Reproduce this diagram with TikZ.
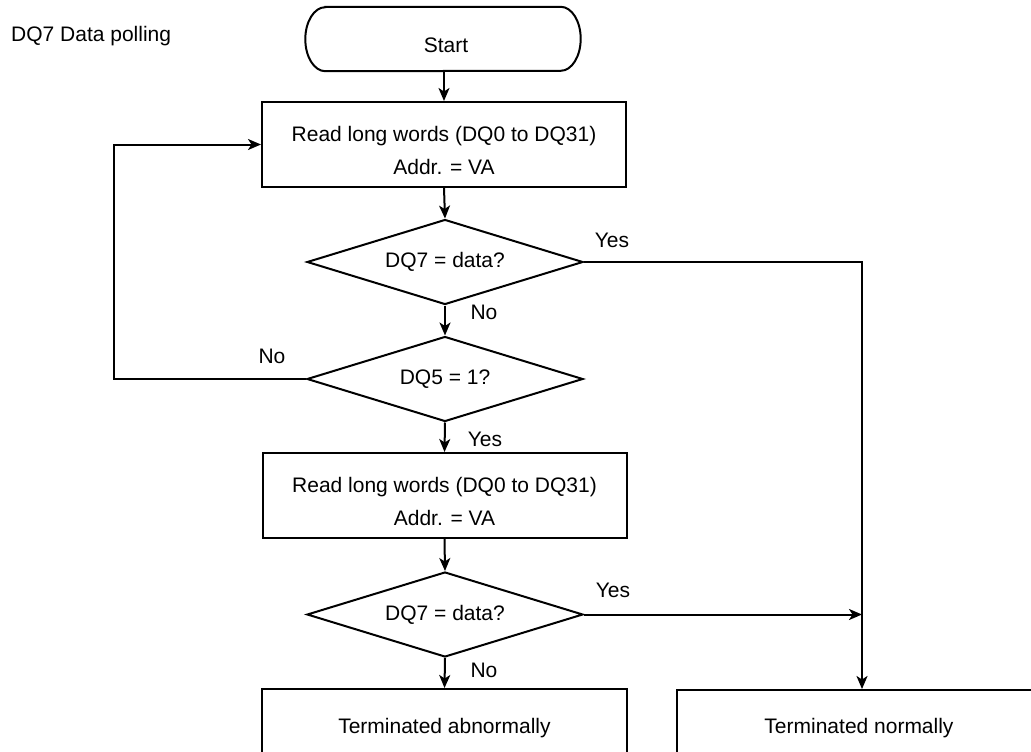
\documentclass[tikz,border=0pt]{standalone}
\usepackage{fontspec}
\setmainfont{Liberation Sans}
\usetikzlibrary{shapes.geometric,arrows.meta}
\begin{document}
\begin{tikzpicture}[x=1pt,y=-1pt,
  every node/.style={font=\fontsize{21}{33}\selectfont},
  arr/.style={line width=2pt,-{Stealth[length=13pt,width=11pt,inset=3.5pt]}},
  procbox/.style={draw,line width=2pt,minimum width=364pt,minimum height=85pt,inner sep=0pt},
  decision/.style={draw,diamond,line width=2pt,aspect=3.3,minimum width=276pt,minimum height=85pt,inner sep=0pt},
  lbl/.style={inner sep=0pt,align=center}]
\useasboundingbox (0,0) rectangle (1031,752);
\clip (0,0) rectangle (1031,752);
\fill[white] (0,0) rectangle (1031,752);

\node[lbl,anchor=west] (title) at (11,36) {DQ7 Data polling};

\node[rectangle,minimum width=275pt,minimum height=64pt,inner sep=0pt] (start) at (443,39) {};
\draw[line width=2pt] (start.north west) ++(20,0) -- ([xshift=-20pt]start.north east)
  arc[start angle=-90,end angle=90,x radius=20,y radius=32]
  -- ([xshift=20pt]start.south west)
  arc[start angle=90,end angle=270,x radius=20,y radius=32] -- cycle;
\node[lbl] (startt) at (446,45) {Start};

\node[procbox] (b1) at (444,144.5) {};
\node[lbl] (b1t) at (444,150) {Read long words (DQ0 to DQ31)\\Addr. = VA};
\node[decision] (d1) at (445,262) {DQ7 = data?};
\node[decision] (d2) at (445,379) {DQ5 = 1?};
\node[procbox] (b2) at (444.5,495.5) {};
\node[lbl] (b2t) at (444.5,501) {Read long words (DQ0 to DQ31)\\Addr. = VA};
\node[decision] (d3) at (445,614.5) {DQ7 = data?};
\node[draw,line width=2pt,minimum width=365pt,minimum height=82pt,inner sep=0pt,anchor=north] (ab) at (444.5,688) {};
\node[lbl] (abt) at (444.5,728) {Terminated abnormally};
\node[draw,line width=2pt,minimum width=364pt,minimum height=82pt,inner sep=0pt,anchor=north] (nm) at (859,689) {};
\node[lbl] (nmt) at (859,728) {Terminated normally};

\coordinate (corner) at (862,262);
\coordinate (join) at (862,614.5);
\coordinate (loopc) at (114,379);

\draw[arr] (start.south -| b1.north) -- (b1.north);
\draw[arr] (b1.south) -- (d1.north);
\draw[arr] (d1.south) -- (d2.north);
\draw[arr] (d2.south) -- (b2.north);
\draw[arr] (b2.south) -- (d3.north);
\draw[arr] (d3.south) -- (ab.north);
\draw[arr] (d2.west) -- (loopc) |- (b1.west);
\draw[arr] (d1.east) -- (corner) -- (corner |- nm.north);
\draw[arr] (d3.east) -- (join);

\node[lbl] (y1) at (612,240) {Yes};
\node[lbl] (n1) at (484,312) {No};
\node[lbl] (n2) at (272,356) {No};
\node[lbl] (y2) at (485,439) {Yes};
\node[lbl] (y3) at (613,590) {Yes};
\node[lbl] (n3) at (484,670) {No};
\end{tikzpicture}
\end{document}
